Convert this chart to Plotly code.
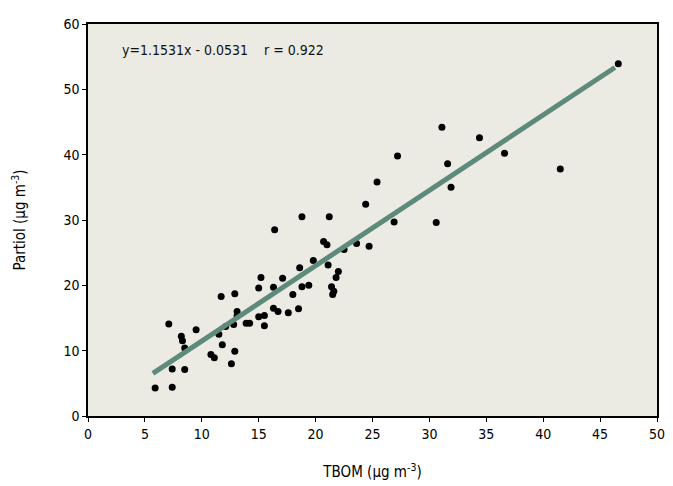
import plotly.graph_objects as go

tbom = [46.6, 31.1, 34.4, 27.2, 31.6, 36.6, 41.5, 25.4, 31.9, 24.4,
        18.8, 21.2, 26.9, 30.6, 16.4, 20.7, 21.0, 23.6, 24.7, 22.5,
        19.8, 18.6, 21.1, 22.0, 21.8, 15.2, 17.1, 15.0, 16.3, 18.8,
        19.4, 21.4, 21.6, 21.5, 18.0, 11.7, 12.9, 13.1, 13.1, 16.3,
        16.7, 17.6, 18.5, 15.0, 15.5, 13.9, 14.2, 7.1, 9.5, 15.5,
        8.2, 8.3, 8.5, 11.5, 11.8, 12.1, 12.8, 10.8, 11.1, 12.9,
        12.6, 7.4, 8.5, 5.9, 7.4]
particol = [53.9, 44.2, 42.6, 39.8, 38.6, 40.2, 37.8, 35.8, 35.0, 32.4,
            30.5, 30.5, 29.7, 29.6, 28.5, 26.7, 26.2, 26.4, 26.0, 25.5,
            23.8, 22.7, 23.1, 22.1, 21.2, 21.2, 21.1, 19.6, 19.7, 19.8,
            20.0, 19.8, 19.1, 18.6, 18.6, 18.3, 18.7, 16.0, 15.3, 16.5,
            16.0, 15.8, 16.4, 15.2, 15.4, 14.2, 14.2, 14.1, 13.2, 13.8,
            12.2, 11.5, 10.4, 12.5, 10.9, 13.7, 14.0, 9.4, 8.9, 9.9,
            8.0, 7.2, 7.1, 4.3, 4.4]

slope = 1.1531
intercept = -0.0531
fit_x = [5.7, 46.3]
fit_y = [slope * v + intercept for v in fit_x]

x_ticks = [0, 5, 10, 15, 20, 25, 30, 35, 40, 45, 50]
y_ticks = [0, 10, 20, 30, 40, 50, 60]

font_fam = "DejaVu Sans Condensed, Liberation Sans Narrow, Liberation Sans, Arial, sans-serif"

fig = go.Figure()
fig.add_trace(go.Scatter(x=tbom, y=particol, mode="markers",
                         marker=dict(color="black", size=7, symbol="circle"),
                         showlegend=False))
fig.add_trace(go.Scatter(x=fit_x, y=fit_y, mode="lines",
                         line=dict(color="#5e8a7c", width=5),
                         showlegend=False))

fig.add_annotation(x=2.8, y=56, xref="x", yref="y", xanchor="left", yanchor="middle",
                   text="y=1.1531x - 0.0531    r = 0.922", showarrow=False,
                   font=dict(family=font_fam, size=14, color="#111"))

# the page body adds an 8px offset, so the figure is sized to fill the rest
fig.update_layout(
    width=665, height=478,
    margin=dict(l=80, r=8, t=9, b=67),
    paper_bgcolor="white",
    plot_bgcolor="#ebebe4",
    font=dict(family=font_fam, size=14, color="#111"),
)
fig.update_xaxes(range=[0, 50], tickvals=x_ticks, ticktext=[str(v) for v in x_ticks],
                 showgrid=False, zeroline=False, showline=True, linecolor="black",
                 linewidth=1.5, mirror=True, ticks="outside", ticklen=4, tickcolor="black",
                 tickfont=dict(size=14, color="black"),
                 title=dict(text="TBOM (µg m<sup>-3</sup>)", standoff=26,
                            font=dict(size=15, color="black")))
fig.update_yaxes(range=[0, 60], tickvals=y_ticks, ticktext=[str(v) for v in y_ticks],
                 showgrid=False, zeroline=False, showline=True, linecolor="black",
                 linewidth=1.5, mirror=True, ticks="outside", ticklen=4, tickcolor="black",
                 tickfont=dict(size=14, color="black"),
                 title=dict(text="Partiol (µg m<sup>-3</sup>)", standoff=34,
                            font=dict(size=15, color="black")))

fig.write_html("out.html")
